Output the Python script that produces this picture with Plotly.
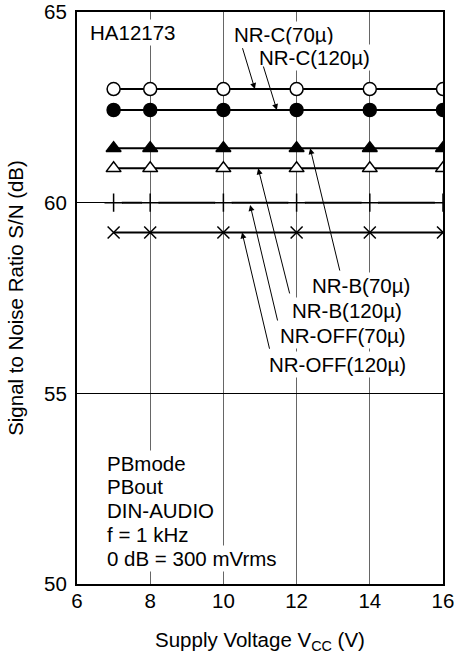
import plotly.graph_objects as go

# ---- data ----
vcc = [7, 8, 10, 12, 14, 16]
nr_c_70 = [62.98, 62.98, 62.98, 62.98, 62.98, 62.98]
nr_c_120 = [62.43, 62.43, 62.43, 62.43, 62.43, 62.43]
nr_b_70 = [61.43, 61.43, 61.43, 61.43, 61.43, 61.43]
nr_b_120 = [60.9, 60.9, 60.9, 60.9, 60.9, 60.9]
nr_off_70 = [60.0, 60.0, 60.0, 60.0, 60.0, 60.0]
nr_off_120 = [59.22, 59.22, 59.22, 59.22, 59.22, 59.22]

x_ticks = [6, 8, 10, 12, 14, 16]
y_ticks = [50, 55, 60, 65]

FONT = "Liberation Sans, Arial, Helvetica, sans-serif"
FS = 20.5

fig = go.Figure()

def line_trace(y, symbol, fill, size=12, lw=2):
    fig.add_trace(go.Scatter(
        x=vcc, y=y, mode="lines+markers",
        line=dict(color="black", width=lw),
        marker=dict(symbol=symbol, size=size, color=fill,
                    line=dict(color="black", width=1.5)),
        showlegend=False, hoverinfo="skip"))

line_trace(nr_c_70, "circle", "white", 13)
line_trace(nr_c_120, "circle", "black", 13)
line_trace(nr_b_70, "triangle-up", "black", 13)
line_trace(nr_b_120, "triangle-up", "white", 13)
# NR-OFF(70): line with small white halo around the + markers
fig.add_trace(go.Scatter(x=vcc, y=nr_off_70, mode="lines",
                         line=dict(color="black", width=2),
                         showlegend=False, hoverinfo="skip"))
fig.add_trace(go.Scatter(x=vcc, y=nr_off_70, mode="markers",
                         marker=dict(symbol="circle", size=17, color="white"),
                         showlegend=False, hoverinfo="skip"))
fig.add_trace(go.Scatter(x=vcc, y=nr_off_70, mode="markers",
                         marker=dict(symbol="cross-thin", size=13, color="black",
                                     line=dict(color="black", width=1.5)),
                         showlegend=False, hoverinfo="skip"))
line_trace(nr_off_120, "x-thin", "black", 12)

# ---- annotations ----
labels = [
    ("HA12173", 6.30, 64.46),
    ("NR-C(70µ)", 10.23, 64.40),
    ("NR-C(120µ)", 10.91, 63.81),
    ("NR-B(70µ)", 12.37, 57.82),
    ("NR-B(120µ)", 11.82, 57.16),
    ("NR-OFF(70µ)", 11.50, 56.51),
    ("NR-OFF(120µ)", 11.18, 55.76),
    ("PBmode", 6.77, 53.17),
    ("PBout", 6.77, 52.55),
    ("DIN-AUDIO", 6.77, 51.92),
    ("f = 1 kHz", 6.77, 51.30),
    ("0 dB = 300 mVrms", 6.77, 50.67),
]
arrows = [  # (tail x, tail y, tip x, tip y)
    (10.51, 64.09, 10.86, 62.98),
    (11.08, 63.61, 11.46, 62.43),
    (13.19, 58.18, 12.37, 61.43),
    (11.82, 57.58, 10.95, 60.90),
    (11.49, 56.87, 10.73, 59.94),
    (11.27, 56.13, 10.51, 59.22),
]
annotations = []
for t, x, y in labels:
    annotations.append(dict(text=t, x=x, y=y, xref="x", yref="y",
                            xanchor="left", yanchor="middle", showarrow=False,
                            bgcolor="white", borderpad=1,
                            font=dict(family=FONT, size=FS, color="black")))
for tx, ty, hx, hy in arrows:
    annotations.append(dict(text="", x=hx, y=hy, ax=tx, ay=ty,
                            xref="x", yref="y", axref="x", ayref="y",
                            showarrow=True, arrowhead=2, arrowsize=1.2,
                            arrowwidth=1, arrowcolor="black", standoff=0))

fig.update_layout(
    width=454, height=659,
    margin=dict(l=77, r=11, t=12, b=75, autoexpand=False),
    paper_bgcolor="white", plot_bgcolor="white",
    font=dict(family=FONT, size=FS, color="black"),
    annotations=annotations,
    showlegend=False,
)
fig.update_xaxes(
    range=[6, 16], tickvals=x_ticks, ticktext=[str(v) for v in x_ticks],
    showgrid=True, gridcolor="#666", gridwidth=1,
    showline=True, linecolor="black", linewidth=2, mirror=True,
    ticks="", ticklabelstandoff=-3, ticklabeloverflow="allow",
    zeroline=False,
    title=dict(text="Supply Voltage V<sub>CC</sub> (V)", standoff=22,
               font=dict(family=FONT, size=FS)),
    tickfont=dict(family=FONT, size=FS),
)
fig.update_yaxes(
    range=[50, 65], tickvals=y_ticks, ticktext=[str(v) for v in y_ticks],
    showgrid=True, gridcolor="black", gridwidth=1,
    showline=True, linecolor="black", linewidth=2, mirror=True,
    ticks="", ticklabelstandoff=4, ticklabeloverflow="allow",
    zeroline=False,
    title=dict(text="Signal to Noise Ratio S/N (dB)", standoff=15,
               font=dict(family=FONT, size=FS)),
    tickfont=dict(family=FONT, size=FS),
)

fig.write_html(
    "out.html",
    config={"displayModeBar": False},
    post_script="document.documentElement.style.margin='0';"
                "document.body.style.margin='0';"
                "document.body.style.overflow='hidden';",
)
